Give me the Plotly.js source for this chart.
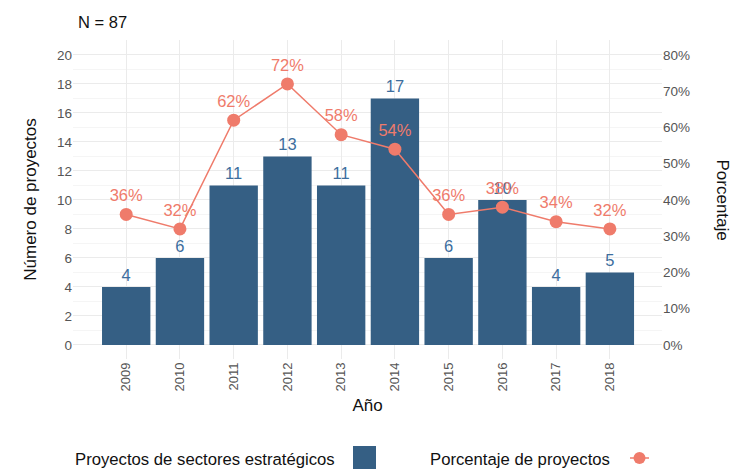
<!DOCTYPE html>
<html>
<head>
<meta charset="utf-8">
<script src="https://cdn.plot.ly/plotly-3.0.1.min.js"></script>
<style>html,body{margin:0;padding:0;background:#fff;}#chart{width:733px;height:470px;}</style>
</head>
<body>
<div id="chart"></div>
<script>
const years = ["2009","2010","2011","2012","2013","2014","2015","2016","2017","2018"];
const proyectos = [4, 6, 11, 13, 11, 17, 6, 10, 4, 5];
const porcentaje = [36, 32, 62, 72, 58, 54, 36, 38, 34, 32];
const pctTicks = [0, 10, 20, 30, 40, 50, 60, 70, 80];

const barColor = "#355F84";
const lineColor = "#EF7B6B";
const font = "Liberation Sans, Arial, sans-serif";

const bars = {
  type: "bar", x: years, y: proyectos, name: "Proyectos de sectores estratégicos",
  marker: {color: barColor}, width: 0.9,
  text: proyectos.map(String), textposition: "outside", cliponaxis: false,
  textfont: {color: "#3C6E9E", size: 16.5, family: font},
  showlegend: false, hoverinfo: "x+y"
};
const line = {
  type: "scatter", mode: "lines+markers+text", x: years, y: porcentaje, yaxis: "y2",
  name: "Porcentaje de proyectos",
  line: {color: lineColor, width: 1.5},
  marker: {color: lineColor, size: 13},
  text: porcentaje.map(v => v + "%"), textposition: "top center", cliponaxis: false,
  textfont: {color: lineColor, size: 16.5, family: font},
  showlegend: false
};

const yr = [-0.97, 21.03];
const layout = {
  width: 733, height: 470,
  margin: {l: 73, r: 71, t: 40, b: 111},
  paper_bgcolor: "#fff", plot_bgcolor: "#fff",
  font: {family: font, color: "#222"},
  showlegend: false,
  bargap: 0.1,
  xaxis: {
    type: "category", range: [-0.99, 9.97],
    tickangle: -90, tickfont: {size: 13, color: "#555"},
    showgrid: true, gridcolor: "#ebebeb", gridwidth: 1,
    zeroline: false, showline: false, ticks: "",
    title: {text: "Año", font: {size: 17, color: "#111"}, standoff: 8}
  },
  yaxis: {
    range: yr, dtick: 2, tick0: 0,
    tickfont: {size: 13.5, color: "#555"},
    showgrid: true, gridcolor: "#ebebeb", gridwidth: 1,
    minor: {dtick: 1, tick0: 0, showgrid: true, gridcolor: "#f3f3f3", gridwidth: 0.8},
    zeroline: false, showline: false, ticks: "",
    title: {text: "Número de proyectos", font: {size: 17, color: "#111"}, standoff: 16}
  },
  yaxis2: {
    overlaying: "y", side: "right", range: [yr[0]*4, yr[1]*4],
    tickvals: pctTicks, ticktext: pctTicks.map(v => v + "%"),
    tickfont: {size: 13.5, color: "#555"},
    showgrid: false, zeroline: false, showline: false, ticks: ""
  },
  annotations: [
    {text: "N = 87", xref: "paper", yref: "paper", x: 0, xshift: 3, y: 1, yshift: 18, xanchor: "left", yanchor: "middle", showarrow: false, font: {size: 16.5, color: "#111"}},
    {text: "Porcentaje", xref: "paper", yref: "paper", x: 1, xshift: 60, y: 0.5, textangle: 90, xanchor: "center", yanchor: "middle", showarrow: false, font: {size: 17, color: "#111"}},
    {text: "Proyectos de sectores estratégicos", xref: "paper", yref: "paper", x: 0.0, xshift: 264, y: 0, yshift: -100, xanchor: "right", yanchor: "middle", showarrow: false, font: {size: 16.7, color: "#111"}},
    {text: "Porcentaje de proyectos", xref: "paper", yref: "paper", x: 0.0, xshift: 539, y: 0, yshift: -100, xanchor: "right", yanchor: "middle", showarrow: false, font: {size: 16.7, color: "#111"}}
  ],
  shapes: [
    {type: "rect", xref: "paper", yref: "paper", xsizemode: "pixel", ysizemode: "pixel", xanchor: 0, yanchor: 0, x0: 280, x1: 303, y0: -87, y1: -110, fillcolor: barColor, line: {width: 0}},
    {type: "line", xref: "paper", yref: "paper", xsizemode: "pixel", ysizemode: "pixel", xanchor: 0, yanchor: 0, x0: 557, x1: 576, y0: -99, y1: -99, line: {color: lineColor, width: 1.5}},
    {type: "circle", xref: "paper", yref: "paper", xsizemode: "pixel", ysizemode: "pixel", xanchor: 0, yanchor: 0, x0: 560.5, x1: 572.5, y0: -93, y1: -105, fillcolor: lineColor, line: {width: 0}}
  ]
};

Plotly.newPlot("chart", [bars, line], layout, {displayModeBar: false, staticPlot: true});
</script>
</body>
</html>
